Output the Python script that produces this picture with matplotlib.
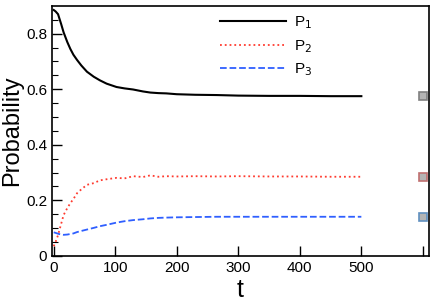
import numpy as np
import matplotlib.pyplot as plt

plt.rcParams['font.family'] = ['Liberation Sans', 'DejaVu Sans']

# values
t = [0, 3, 7, 12, 16, 22, 27, 32, 38, 45, 54, 65, 75, 86, 102, 115, 129, 145, 157, 170, 183, 200, 230, 265, 300, 350, 400, 450, 500]
p1 = [0.885, 0.88, 0.870, 0.835, 0.805, 0.770, 0.745, 0.724, 0.705, 0.685, 0.663, 0.645, 0.632, 0.620, 0.608, 0.603, 0.599, 0.592, 0.588, 0.586, 0.585, 0.582, 0.580, 0.579, 0.577, 0.576, 0.576, 0.575, 0.575]
p2 = [0.035, 0.05, 0.075, 0.115, 0.147, 0.172, 0.190, 0.205, 0.226, 0.240, 0.256, 0.262, 0.272, 0.276, 0.281, 0.279, 0.287, 0.284, 0.290, 0.285, 0.287, 0.286, 0.287, 0.286, 0.287, 0.286, 0.286, 0.285, 0.285]
p3 = [0.085, 0.083, 0.080, 0.077, 0.076, 0.077, 0.079, 0.081, 0.086, 0.090, 0.095, 0.101, 0.107, 0.112, 0.120, 0.125, 0.129, 0.132, 0.135, 0.137, 0.138, 0.139, 0.140, 0.141, 0.141, 0.141, 0.141, 0.141, 0.141]
# steady-state markers
t_inf = 600
p_inf = [0.575, 0.285, 0.141]
edge_cols = ["#808080", "#c07070", "#6090c0"]

fig = plt.figure(figsize=(4.36, 3.08), dpi=100)
ax = fig.add_axes([0.119, 0.169, 0.865, 0.812])

ax.plot(t, p1, "k-", lw=1.5, label="P$_1$")
ax.plot(t, p2, color="#ff3b2f", ls=":", lw=1.3, label="P$_2$")
ax.plot(t, p3, color="#2f5fff", ls="--", lw=1.3, label="P$_3$")

for p, ec in zip(p_inf, edge_cols):
    ax.plot(t_inf, p, "s", ms=6, mfc="#b4b4b4", mec=ec, mew=1.2, clip_on=False)

ax.set_xlim(-3, 610)
ax.set_ylim(0, 0.9)
ax.set_xticks([0, 100, 200, 300, 400, 500, 600])
ax.set_xticklabels(["0", "100", "200", "300", "400", "500", ""])
ax.set_yticks([0, 0.2, 0.4, 0.6, 0.8])
ax.set_yticklabels(["0", "0.2", "0.4", "0.6", "0.8"])
ax.set_yticks(np.arange(0, 0.9, 0.05), minor=True)
ax.tick_params(direction="in", labelsize=11, length=7, width=1)
ax.tick_params(which="minor", direction="in", length=4, width=0.8)
for s in ax.spines.values():
    s.set_linewidth(1.2)

ax.set_xlabel("t", fontsize=18, labelpad=2)
ax.set_ylabel("Probability", fontsize=17, labelpad=2)

ax.legend(loc="upper left", bbox_to_anchor=(0.41, 1.02), frameon=False,
          handlelength=4.3, fontsize=11, labelspacing=0.45, handletextpad=0.5)

fig.savefig("out.png", dpi=100)
